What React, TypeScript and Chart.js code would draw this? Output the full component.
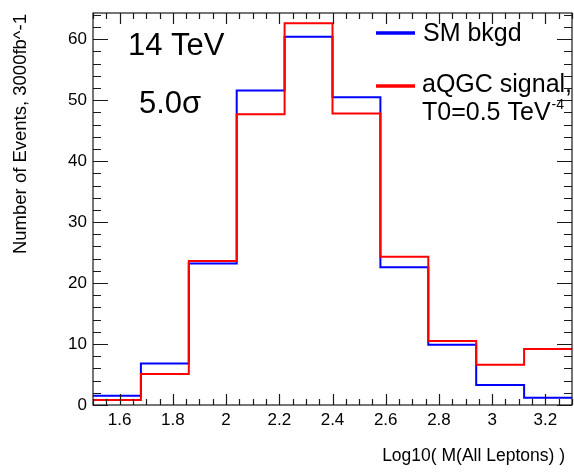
import React, { useEffect, useRef } from "react";
import { Chart, registerables } from "chart.js";

Chart.register(...registerables);

// ---- data ----
const binEdges = [1.5, 1.68, 1.86, 2.04, 2.22, 2.4, 2.58, 2.76, 2.94, 3.12, 3.3];
const smBkgd = [1.5, 6.8, 23.2, 51.6, 60.4, 50.5, 22.6, 9.9, 3.3, 1.2];
const aqgcSignal = [0.8, 5.1, 23.6, 47.7, 62.6, 47.8, 24.3, 10.5, 6.6, 9.2];
const xTickValues = [1.6, 1.8, 2.0, 2.2, 2.4, 2.6, 2.8, 3.0, 3.2];
const xTickLabels = ["1.6", "1.8", "2", "2.2", "2.4", "2.6", "2.8", "3", "3.2"];
const yTickValues = [0, 10, 20, 30, 40, 50, 60];
const yTickLabels = ["0", "10", "20", "30", "40", "50", "60"];
const xRange = [1.5, 3.3];
const yRange = [0, 64.3];

const FONT = "'Liberation Sans', Arial, Helvetica, sans-serif";

function histPoints(edges: number[], vals: number[]) {
  return edges.map((e, i) => ({ x: e, y: vals[Math.min(i, vals.length - 1)] }));
}

const framePlugin = {
  id: "rootFrame",
  afterDatasetsDraw(chart: any) {
    const { ctx, chartArea, scales } = chart;
    const { left, right, top, bottom } = chartArea;
    const xs = scales.x;
    const ys = scales.y;
    ctx.save();
    ctx.strokeStyle = "#1a1a1a";
    ctx.lineWidth = 1.2;
    // frame
    ctx.strokeRect(left, top, right - left, bottom - top);

    ctx.beginPath();
    // x minor ticks every 0.05
    for (let i = 0; i <= 36; i++) {
      const v = xRange[0] + i * 0.05;
      const px = Math.round(xs.getPixelForValue(v)) + 0.5;
      ctx.moveTo(px, bottom);
      ctx.lineTo(px, bottom - 6);
      ctx.moveTo(px, top);
      ctx.lineTo(px, top + 6);
    }
    // x major
    for (const v of xTickValues) {
      const px = Math.round(xs.getPixelForValue(v)) + 0.5;
      ctx.moveTo(px, bottom);
      ctx.lineTo(px, bottom - 11);
      ctx.moveTo(px, top);
      ctx.lineTo(px, top + 11);
    }
    // y minor every 2
    for (let v = 0; v <= 64; v += 2) {
      const py = Math.round(ys.getPixelForValue(v)) + 0.5;
      ctx.moveTo(left, py);
      ctx.lineTo(left + 8, py);
      ctx.moveTo(right, py);
      ctx.lineTo(right - 8, py);
    }
    for (const v of yTickValues) {
      const py = Math.round(ys.getPixelForValue(v)) + 0.5;
      ctx.moveTo(left, py);
      ctx.lineTo(left + 15, py);
      ctx.moveTo(right, py);
      ctx.lineTo(right - 15, py);
    }
    ctx.stroke();

    // tick labels
    ctx.fillStyle = "#000";
    ctx.font = `17px ${FONT}`;
    ctx.textAlign = "center";
    ctx.textBaseline = "middle";
    xTickValues.forEach((v, i) => {
      ctx.fillText(xTickLabels[i], xs.getPixelForValue(v), 420);
    });
    ctx.textAlign = "right";
    yTickValues.forEach((v, i) => {
      ctx.fillText(yTickLabels[i], 87, ys.getPixelForValue(v));
    });

    // axis titles
    ctx.font = `17.5px ${FONT}`;
    ctx.textAlign = "right";
    ctx.textBaseline = "middle";
    ctx.fillText("Log10( M(All Leptons) )", 565, 456);

    ctx.save();
    ctx.translate(26, 14);
    ctx.rotate(-Math.PI / 2);
    ctx.textAlign = "right";
    ctx.textBaseline = "alphabetic";
    ctx.font = `18.5px ${FONT}`;
    ctx.fillText("Number of Events, 3000fb^-1", 0, 0);
    ctx.restore();

    // annotations
    ctx.textAlign = "left";
    ctx.textBaseline = "alphabetic";
    ctx.font = `31px ${FONT}`;
    ctx.fillText("14 TeV", 128, 55);
    ctx.fillText("5.0σ", 139, 113);

    // legend
    ctx.lineWidth = 3.5;
    ctx.strokeStyle = "#0000ff";
    ctx.beginPath();
    ctx.moveTo(376, 33);
    ctx.lineTo(415, 33);
    ctx.stroke();
    ctx.strokeStyle = "#ff0000";
    ctx.beginPath();
    ctx.moveTo(376, 86);
    ctx.lineTo(415, 86);
    ctx.stroke();

    ctx.font = `25px ${FONT}`;
    ctx.fillText("SM bkgd", 423, 41);
    ctx.fillText("aQGC signal,", 422, 92);
    const base = "T0=0.5 TeV";
    ctx.fillText(base, 422, 120);
    const w = ctx.measureText(base).width;
    ctx.font = `14px ${FONT}`;
    ctx.fillText("-4", 422 + w + 1, 109);
    ctx.restore();
  },
};

export default function App() {
  const canvasRef = useRef<HTMLCanvasElement | null>(null);

  useEffect(() => {
    document.body.style.margin = "0";
    const canvas = canvasRef.current;
    if (!canvas) return;
    const chart = new Chart(canvas, {
      type: "line",
      data: {
        datasets: [
          {
            label: "aQGC signal, T0=0.5 TeV^-4",
            data: histPoints(binEdges, aqgcSignal),
            borderColor: "#ff0000",
            borderWidth: 2,
            pointRadius: 0,
            stepped: "before",
            fill: false,
            order: 0,
          },
          {
            label: "SM bkgd",
            data: histPoints(binEdges, smBkgd),
            borderColor: "#0000ff",
            borderWidth: 2,
            pointRadius: 0,
            stepped: "before",
            fill: false,
            order: 1,
          },
        ],
      },
      options: {
        responsive: false,
        animation: false,
        layout: { padding: { left: 93, right: 2, top: 13, bottom: 70 } },
        plugins: {
          legend: { display: false },
          tooltip: { enabled: false },
        },
        scales: {
          x: { type: "linear", min: xRange[0], max: xRange[1], display: false },
          y: { type: "linear", min: yRange[0], max: yRange[1], display: false },
        },
      },
      plugins: [framePlugin],
    });
    return () => chart.destroy();
  }, []);

  return (
    <div style={{ position: "fixed", left: 0, top: 0, width: 574, height: 475, background: "#fff" }}>
      <canvas ref={canvasRef} width={574} height={475} style={{ width: 574, height: 475 }} />
    </div>
  );
}
